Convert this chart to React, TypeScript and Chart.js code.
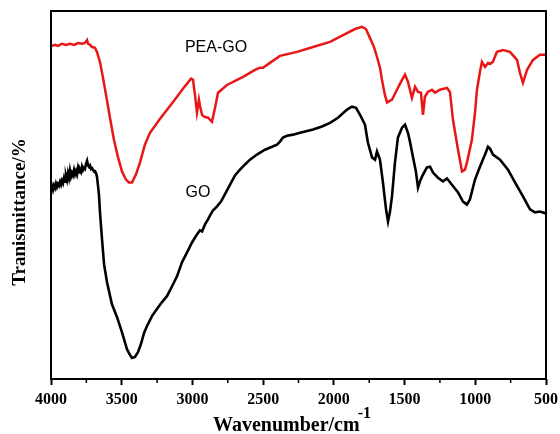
import React, { useEffect, useRef } from "react";
import { Chart, registerables } from "chart.js";

Chart.register(...registerables);

// GO spectrum (black)
const goWavenumber = [
  4000, 3993, 3986, 3979, 3972, 3965, 3958, 3951, 3944, 3936,
  3929, 3922, 3915, 3908, 3901, 3894, 3887, 3880, 3873, 3866,
  3859, 3852, 3845, 3837, 3830, 3823, 3816, 3809, 3802, 3795,
  3788, 3781, 3774, 3767, 3760, 3753, 3745, 3738, 3731, 3724,
  3717, 3710, 3703, 3696, 3689, 3682, 3675, 3668, 3661,
  3654, 3639, 3625, 3604, 3569, 3533,
  3498, 3463, 3441, 3427, 3406, 3385, 3364, 3342, 3321, 3286,
  3251, 3215, 3180, 3144, 3109, 3074, 3038, 3003, 2968, 2947,
  2932, 2911, 2890, 2876, 2855, 2826, 2798, 2763, 2734, 2699,
  2664, 2628, 2593, 2544, 2487, 2437, 2402, 2381, 2360, 2331,
  2289, 2239, 2147, 2084, 2027, 1971, 1907, 1872, 1843, 1815,
  1780, 1759, 1730, 1709, 1695, 1674, 1653, 1631, 1617, 1603,
  1589, 1568, 1547, 1518, 1497, 1476, 1462, 1441, 1420, 1405,
  1391, 1377, 1342, 1320, 1299, 1264, 1228, 1200, 1165, 1122,
  1087, 1059, 1038, 1002, 967, 931, 910, 896, 875, 825,
  769, 719, 663, 613, 578, 543, 500,
];
const goTransmittance = [
  51.5, 52.4, 51.4, 52.6, 51.9, 53.1, 52.2, 53.0, 52.5, 53.6,
  52.8, 53.9, 53.2, 54.6, 53.6, 55.2, 54.1, 55.9, 54.6, 56.6,
  55.0, 56.0, 55.3, 56.8, 55.6, 56.5, 55.6, 57.3, 56.1, 56.9,
  56.3, 57.7, 56.8, 57.4, 57.1, 58.4, 59.3, 58.0, 57.6, 58.0,
  57.1, 57.3, 56.8, 56.5, 56.5, 56.0, 55.0, 52.6, 50.1,
  45.5, 37.9, 31.2, 26.3, 20.3, 16.8,
  12.7, 8.1, 6.5, 5.7, 6.0, 7.3, 9.5, 12.5, 14.4, 17.1,
  19.0, 20.9, 22.5, 25.2, 27.9, 31.7, 34.4, 37.1, 39.3, 40.4,
  40.1, 42.0, 43.4, 44.4, 45.8, 46.9, 48.2, 50.7, 52.8, 55.3,
  56.9, 58.3, 59.6, 61.0, 62.3, 63.1, 63.7, 64.5, 65.6, 66.1,
  66.4, 66.9, 67.8, 68.6, 69.6, 71.0, 73.2, 74.0, 73.7, 71.8,
  69.1, 64.2, 60.2, 59.6, 61.8, 59.6, 53.4, 46.1, 42.8, 45.5,
  49.6, 58.8, 65.6, 68.3, 69.1, 66.9, 64.5, 60.4, 56.4, 52.0,
  53.7, 55.0, 57.5, 57.7, 56.1, 54.7, 53.7, 54.5, 52.8, 50.7,
  48.2, 47.4, 48.8, 54.2, 57.7, 61.0, 63.1, 62.6, 61.0, 59.6,
  56.9, 53.4, 49.6, 46.1, 45.3, 45.5, 45.0,
];

// PEA-GO spectrum (red)
const peaWavenumber = [
  4000, 3972, 3951, 3922, 3894, 3866, 3837, 3809, 3781, 3760,
  3745, 3738, 3724, 3710, 3689, 3675, 3654, 3632, 3611, 3583,
  3555, 3526, 3498, 3470, 3449, 3427, 3399, 3371, 3336, 3300,
  3229, 3137, 3067, 3010, 2996, 2982, 2968, 2954, 2947, 2932,
  2918, 2890, 2862, 2840, 2819, 2756, 2642, 2558, 2522, 2501,
  2452, 2381, 2261, 2147, 2027, 1907, 1851, 1801, 1773, 1745,
  1716, 1695, 1674, 1660, 1639, 1624, 1589, 1554, 1518, 1497,
  1476, 1448, 1426, 1405, 1384, 1370, 1356, 1335, 1306, 1285,
  1250, 1200, 1179, 1158, 1122, 1094, 1073, 1059, 1024, 1002,
  988, 967, 953, 931, 910, 896, 875, 847, 804, 755,
  705, 684, 663, 634, 592, 543, 500,
];
const peaTransmittance = [
  90.5, 90.8, 90.5, 91.1, 90.8, 91.1, 90.8, 91.3, 91.1, 91.3,
  92.1, 91.1, 90.8, 90.2, 90.0, 88.9, 86.2, 81.8, 77.2, 71.0,
  65.0, 60.2, 56.4, 54.2, 53.4, 53.4, 55.6, 58.8, 63.7, 66.9,
  70.7, 75.3, 78.9, 81.6, 81.3, 77.2, 72.4, 75.9, 74.3, 71.8,
  71.3, 71.0, 69.9, 73.7, 77.8, 79.9, 82.1, 84.0, 84.6, 84.6,
  85.9, 87.8, 88.9, 90.2, 91.6, 94.0, 95.1, 95.7, 95.1, 92.7,
  90.2, 87.5, 84.6, 81.3, 77.2, 75.1, 75.9, 78.6, 81.3, 82.7,
  80.8, 76.4, 79.4, 78.0, 77.8, 71.8, 76.7, 78.0, 78.6, 77.8,
  78.6, 79.1, 78.0, 70.5, 62.3, 56.4, 56.9, 58.8, 65.0, 72.4,
  78.6, 83.5, 86.2, 84.8, 85.9, 85.6, 86.2, 88.9, 89.4, 88.9,
  86.7, 83.2, 80.5, 84.0, 86.7, 88.1, 88.1,
];

// in-plot curve labels (data coordinates)
const curveLabels = ["PEA-GO", "GO"];
const curveLabelWavenumber = [2833, 2961];
const curveLabelTransmittance = [90.0, 50.7];

const xMin = 500;
const xMax = 4000;
const xMajorStep = 500;
const xMinorStep = 250;
const yMin = 0;
const yMax = 100;

const xTitle = "Wavenumber/cm";
const xTitleSup = "-1";
const yTitle = "Tranismittance/%";

const serif = '"Liberation Serif", "Times New Roman", serif';
const sans = '"Liberation Sans", Arial, sans-serif';

const decorPlugin = {
  id: "decor",
  afterDraw(chart: any) {
    const { ctx, chartArea: a, scales } = chart;
    const xs = scales.x;
    const ys = scales.y;
    ctx.save();
    ctx.strokeStyle = "#000";
    // minor ticks (shorter)
    ctx.lineWidth = 1.5;
    xs.ticks
      .filter((t: any) => t.value % xMajorStep !== 0)
      .forEach((t: any) => {
        const px = xs.getPixelForValue(t.value);
        ctx.beginPath();
        ctx.moveTo(px, a.bottom);
        ctx.lineTo(px, a.bottom + 4);
        ctx.stroke();
      });
    // frame
    ctx.lineWidth = 2;
    ctx.strokeRect(a.left, a.top, a.right - a.left, a.bottom - a.top);

    // curve labels
    ctx.fillStyle = "#000";
    ctx.font = `16px ${sans}`;
    ctx.textAlign = "center";
    ctx.textBaseline = "middle";
    curveLabels.forEach((txt, i) => {
      ctx.fillText(
        txt,
        xs.getPixelForValue(curveLabelWavenumber[i]),
        ys.getPixelForValue(curveLabelTransmittance[i])
      );
    });

    // x title with superscript
    ctx.font = `bold 20px ${serif}`;
    ctx.textAlign = "left";
    ctx.textBaseline = "alphabetic";
    const w1 = ctx.measureText(xTitle).width;
    ctx.font = `bold 16px ${serif}`;
    const w2 = ctx.measureText(xTitleSup).width;
    const total = w1 + w2 - 2;
    const startX = 292 - total / 2;
    ctx.font = `bold 20px ${serif}`;
    ctx.fillText(xTitle, startX, 431);
    ctx.font = `bold 16px ${serif}`;
    ctx.fillText(xTitleSup, startX + w1 - 2, 418);

    // y title
    ctx.translate(20, 212);
    ctx.rotate(-Math.PI / 2);
    ctx.font = `bold 19px ${serif}`;
    ctx.textAlign = "center";
    ctx.textBaseline = "middle";
    ctx.fillText(yTitle, 0, 0);
    ctx.restore();
  },
};

export default function App() {
  const canvasRef = useRef<HTMLCanvasElement | null>(null);

  useEffect(() => {
    if (!canvasRef.current) return;
    const chart = new Chart(canvasRef.current, {
      type: "line",
      data: {
        datasets: [
          {
            label: "PEA-GO",
            data: peaWavenumber.map((w, i) => ({ x: w, y: peaTransmittance[i] })),
            borderColor: "rgb(232, 22, 22)",
            borderWidth: 2.5,
            pointRadius: 0,
            tension: 0,
            fill: false,
          },
          {
            label: "GO",
            data: goWavenumber.map((w, i) => ({ x: w, y: goTransmittance[i] })),
            borderColor: "#000",
            borderWidth: 2.6,
            pointRadius: 0,
            tension: 0,
            fill: false,
          },
        ],
      },
      options: {
        animation: false,
        responsive: true,
        maintainAspectRatio: false,
        layout: { padding: { top: 11, right: 14, left: 0, bottom: 0 } },
        plugins: {
          legend: { display: false },
          tooltip: { enabled: false },
        },
        scales: {
          x: {
            type: "linear",
            reverse: true,
            min: xMin,
            max: xMax,
            border: { display: false },
            grid: {
              display: true,
              drawOnChartArea: false,
              drawTicks: true,
              tickLength: 6,
              tickWidth: 2,
              tickColor: (c: any) =>
                c.tick && c.tick.value % xMajorStep === 0 ? "#000" : "rgba(0,0,0,0)",
            },
            ticks: {
              stepSize: xMinorStep,
              autoSkip: false,
              maxRotation: 0,
              padding: 5,
              color: "#000",
              font: { family: serif, size: 16, weight: "bold" },
              callback: (v: any) => (Number(v) % xMajorStep === 0 ? String(v) : ""),
            },
            afterFit: (s: any) => {
              s.height = 55;
              s.paddingLeft = 0;
              s.paddingRight = 0;
            },
          },
          y: {
            type: "linear",
            min: yMin,
            max: yMax,
            border: { display: false },
            grid: { display: false },
            ticks: { display: false },
            afterFit: (s: any) => {
              s.width = 51;
            },
          },
        },
      },
      plugins: [decorPlugin],
    });
    return () => chart.destroy();
  }, []);

  return (
    <div
      style={{
        position: "fixed",
        left: 0,
        top: 0,
        width: 560,
        height: 434,
        background: "#fff",
      }}
    >
      <canvas ref={canvasRef} />
    </div>
  );
}
